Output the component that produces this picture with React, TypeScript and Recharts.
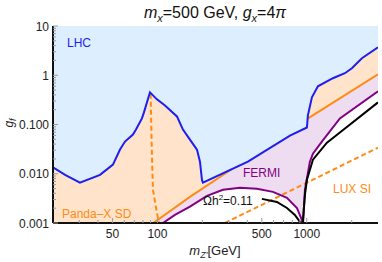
import React from 'react';
import { ComposedChart, Area, Line, XAxis, YAxis, CartesianGrid } from 'recharts';

// LHC bound
const lhcMass = [20, 24.1, 30.3, 41.3, 50.4, 56.2, 60.7, 68.6, 71.9, 78.8, 81.3, 89.2, 99.3, 112.4, 135.2, 148.3, 165.2, 184.1, 192.8, 198.8, 201.8, 403.8, 771.8, 1002.6, 1018, 1083, 1188, 1497, 1801, 2006, 2342, 3000];
const lhcG = [0.0135, 0.0095, 0.0066, 0.0095, 0.0153, 0.031, 0.045, 0.0625, 0.079, 0.133, 0.176, 0.45, 0.324, 0.244, 0.146, 0.079, 0.0494, 0.0309, 0.0176, 0.0075, 0.0066, 0.0176, 0.0596, 0.0869, 0.153, 0.356, 0.596, 0.87, 1.1, 1.39, 2.22, 3.7];

// Panda-X SD solid line (full, lower visible part, upper visible part)
const pandaMass = [94, 165.2, 1018, 3000];
const pandaG = [0.001, 0.00339, 0.1326, 1.048];
const pandaLowMass = [94, 165.2, 312];
const pandaLowG = [0.001, 0.00339, 0.0122];
const pandaHighMass = [1014, 3000];
const pandaHighG = [0.1316, 1.048];

// Panda-X SD dashed (resonance)
const pandaDashMass = [90.1, 91.6, 93.4, 99.3, 102.4];
const pandaDashG = [0.42, 0.0356, 0.00472, 0.0016, 0.001];

// FERMI
const fermiMass = [108.9, 131.1, 165.2, 214.8, 274.7, 357, 464, 593.9, 737, 859.6, 928.6, 945, 972.5, 1050, 1100, 1263, 1667, 3000];
const fermiG = [0.001, 0.00146, 0.00215, 0.00356, 0.00472, 0.00518, 0.00494, 0.00429, 0.00324, 0.00202, 0.00115, 0.001, 0.00472, 0.01758, 0.0256, 0.045, 0.1326, 0.4716];

// Relic density Omega h^2 = 0.11
const relicMass = [501, 631, 737, 833, 900, 940, 972.5, 1002.6, 1100, 1365, 1667, 3000];
const relicG = [0.00309, 0.00268, 0.00202, 0.001457, 0.00105, 0.001, 0.00373, 0.00754, 0.0193, 0.0429, 0.0687, 0.281];

// LUX SI dashed
const luxMass = [283.4, 3000];
const luxG = [0.001, 0.0339];

// ticks
const xTicks = [30, 40, 50, 60, 70, 80, 90, 100, 200, 300, 400, 500, 600, 700, 800, 900, 1000, 2000];
const xLabels = [50, 100, 500, 1000];
const yTicks = [0.001, 0.002, 0.003, 0.004, 0.005, 0.006, 0.007, 0.008, 0.009, 0.01, 0.02, 0.03, 0.04, 0.05, 0.06, 0.07, 0.08, 0.09, 0.1, 0.2, 0.3, 0.4, 0.5, 0.6, 0.7, 0.8, 0.9, 1, 2, 3, 4, 5, 6, 7, 8, 9, 10];
const yLabelValues = [0.001, 0.01, 0.1, 1, 10];
const yLabelTexts = ['0.001', '0.010', '0.100', '1', '10'];

const zip = (ms: number[], gs: number[]) => ms.map((m, i) => ({ m, g: gs[i] }));

const lhcData = zip(lhcMass, lhcG);
const pandaData = zip(pandaMass, pandaG);
const pandaLowData = zip(pandaLowMass, pandaLowG);
const pandaHighData = zip(pandaHighMass, pandaHighG);
const pandaDashData = zip(pandaDashMass, pandaDashG);
const fermiData = zip(fermiMass, fermiG);
const relicData = zip(relicMass, relicG);
const luxData = zip(luxMass, luxG);

const FONT = '"Liberation Sans", Arial, sans-serif';
const BLUE = '#1E1EEE';
const ORANGE = '#FF8A14';
const PURPLE = '#820082';
const FILL_BLUE = '#DDEEFF';
const FILL_PEACH = '#FFE4CB';
const FILL_LAV = '#EEDDF0';

const XTick = (props: any) => {
  const { x, y, payload, top } = props;
  const v = payload.value;
  const major = xLabels.includes(v);
  const len = major ? 5 : 3;
  const dir = top ? 1 : -1;
  return (
    <g>
      <line x1={x} y1={y} x2={x} y2={y + dir * len} stroke="#999" strokeWidth={1} />
      {!top && major && (
        <text x={x} y={y + 14.5} textAnchor="middle" fontSize={12} fill="#222" fontFamily={FONT}>
          {v}
        </text>
      )}
    </g>
  );
};

const YTick = (props: any) => {
  const { x, y, payload, right } = props;
  const v = payload.value;
  const idx = yLabelValues.findIndex((t) => Math.abs(t - v) / t < 1e-6);
  const major = idx >= 0;
  const len = major ? 5 : 3;
  const dir = right ? -1 : 1;
  return (
    <g>
      <line x1={x} y1={y} x2={x + dir * len} y2={y} stroke="#999" strokeWidth={1} />
      {!right && major && (
        <text x={x - 4} y={y + 4.5} textAnchor="end" fontSize={12} fill="#222" fontFamily={FONT}>
          {yLabelTexts[idx]}
        </text>
      )}
    </g>
  );
};

export default function App() {
  return (
    <div style={{ position: 'absolute', left: 0, top: 0, width: 382, height: 262, background: '#fff' }}>
      <ComposedChart width={382} height={262} margin={{ top: 26, right: 4, bottom: 0, left: 0 }}>
        <CartesianGrid horizontal={false} vertical={false} fill={FILL_PEACH} stroke="none" />
        <XAxis
          xAxisId="b"
          type="number"
          dataKey="m"
          scale="log"
          domain={[20, 3000]}
          allowDataOverflow
          ticks={xTicks}
          interval={0}
          height={39}
          tickSize={0}
          tickMargin={0}
          tickLine={false}
          axisLine={{ stroke: '#111', strokeWidth: 2 }}
          tick={(p: any) => <XTick {...p} />}
        />
        <XAxis
          xAxisId="t"
          orientation="top"
          type="number"
          dataKey="m"
          scale="log"
          domain={[20, 3000]}
          allowDataOverflow
          ticks={xTicks}
          interval={0}
          height={0}
          tickSize={0}
          tickMargin={0}
          tickLine={false}
          axisLine={{ stroke: '#111', strokeWidth: 2 }}
          tick={(p: any) => <XTick {...p} top />}
        />
        <YAxis
          yAxisId="l"
          type="number"
          scale="log"
          domain={[0.001, 10]}
          allowDataOverflow
          ticks={yTicks}
          interval={0}
          width={53}
          tickSize={0}
          tickMargin={0}
          tickLine={false}
          axisLine={{ stroke: '#111', strokeWidth: 2 }}
          tick={(p: any) => <YTick {...p} />}
        />
        <YAxis
          yAxisId="r"
          orientation="right"
          type="number"
          scale="log"
          domain={[0.001, 10]}
          allowDataOverflow
          ticks={yTicks}
          interval={0}
          width={0}
          tickSize={0}
          tickMargin={0}
          tickLine={false}
          axisLine={{ stroke: '#111', strokeWidth: 2 }}
          tick={(p: any) => <YTick {...p} right />}
        />

        <Area xAxisId="b" yAxisId="l" data={pandaData} dataKey="g" type="linear" baseValue={0.001}
          fill={FILL_LAV} fillOpacity={1} stroke="none" isAnimationActive={false} />
        <Area xAxisId="b" yAxisId="l" data={fermiData} dataKey="g" type="linear" baseValue={0.001}
          fill="#ffffff" fillOpacity={1} stroke="none" isAnimationActive={false} />
        <Area xAxisId="b" yAxisId="l" data={lhcData} dataKey={(d: any) => [d.g, 10]} type="linear"
          fill={FILL_BLUE} fillOpacity={1} stroke="none" isAnimationActive={false} />

        <Line xAxisId="b" yAxisId="l" data={pandaLowData} dataKey="g" type="linear" stroke={ORANGE} strokeWidth={2} dot={false} isAnimationActive={false} />
        <Line xAxisId="b" yAxisId="l" data={pandaHighData} dataKey="g" type="linear" stroke={ORANGE} strokeWidth={2} dot={false} isAnimationActive={false} />
        <Line xAxisId="b" yAxisId="l" data={pandaDashData} dataKey="g" type="linear" stroke={ORANGE} strokeWidth={2} strokeDasharray="5 3" dot={false} isAnimationActive={false} />
        <Line xAxisId="b" yAxisId="l" data={luxData} dataKey="g" type="linear" stroke={ORANGE} strokeWidth={2} strokeDasharray="5 3" dot={false} isAnimationActive={false} />
        <Line xAxisId="b" yAxisId="l" data={fermiData} dataKey="g" type="linear" stroke={PURPLE} strokeWidth={2} dot={false} isAnimationActive={false} />
        <Line xAxisId="b" yAxisId="l" data={relicData} dataKey="g" type="linear" stroke="#000" strokeWidth={2} dot={false} isAnimationActive={false} />
        <Line xAxisId="b" yAxisId="l" data={lhcData} dataKey="g" type="linear" stroke={BLUE} strokeWidth={2} dot={false} isAnimationActive={false} />
      </ComposedChart>

      <svg width={382} height={262} style={{ position: 'absolute', left: 0, top: 0, pointerEvents: 'none' }} fontFamily={FONT}>
        <text x={215} y={18} textAnchor="middle" fontSize={16} fill="#111">
          <tspan fontStyle="italic">m</tspan>
          <tspan fontSize={11} dy={4} fontStyle="italic">x</tspan>
          <tspan dy={-4}>=500 GeV, </tspan>
          <tspan fontStyle="italic">g</tspan>
          <tspan fontSize={11} dy={4} fontStyle="italic">x</tspan>
          <tspan dy={-4}>=4</tspan>
          <tspan fontStyle="italic">π</tspan>
        </text>
        <text transform="translate(13,123) rotate(-90)" textAnchor="middle" fontSize={12} fill="#222">
          <tspan fontStyle="italic">g</tspan>
          <tspan fontSize={9} dy={3} fontStyle="italic">f</tspan>
        </text>
        <text x={215} y={255} textAnchor="middle" fontSize={13} fill="#222">
          <tspan fontStyle="italic">m</tspan>
          <tspan fontSize={9} dy={3} fontStyle="italic">Z'</tspan>
          <tspan dy={-3}>[GeV]</tspan>
        </text>
        <text x={67} y={47} fontSize={12} fill={BLUE}>LHC</text>
        <text x={62} y={218} fontSize={12} fill={ORANGE}>Panda–X SD</text>
        <text x={243} y={177} fontSize={12} fill={PURPLE}>FERMI</text>
        <text x={203} y={205} fontSize={12} fill="#111">
          Ωh<tspan fontSize={8} dy={-5}>2</tspan><tspan dy={5}>=0.11</tspan>
        </text>
        <text x={333} y={193} fontSize={12} fill={ORANGE}>LUX SI</text>
      </svg>
    </div>
  );
}
